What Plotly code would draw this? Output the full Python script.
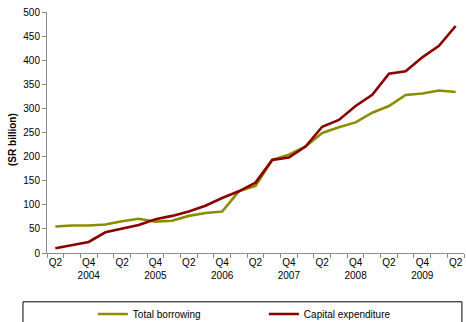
import plotly.graph_objects as go

# Quarterly periods, Q2 2004 .. Q2 2010
quarters = [
    "Q2 2004", "Q3 2004", "Q4 2004", "Q1 2005", "Q2 2005", "Q3 2005", "Q4 2005",
    "Q1 2006", "Q2 2006", "Q3 2006", "Q4 2006", "Q1 2007", "Q2 2007", "Q3 2007",
    "Q4 2007", "Q1 2008", "Q2 2008", "Q3 2008", "Q4 2008", "Q1 2009", "Q2 2009",
    "Q3 2009", "Q4 2009", "Q1 2010", "Q2 2010",
]

# SR billion
total_borrowing = [55, 57, 57, 59, 66, 71, 65, 67, 77, 83, 86, 128, 139, 193,
                   204, 221, 249, 261, 271, 291, 305, 328, 331, 337, 334]
capital_expenditure = [10, 17, 23, 43, 50, 58, 70, 77, 86, 98, 114, 128, 146, 193,
                       198, 221, 262, 276, 305, 328, 372, 377, 406, 430, 471]

# Axis labels: every second quarter, year under each Q4
tick_idx = list(range(0, len(quarters), 2))
tick_text = ["Q2", "Q4<br>2004", "Q2", "Q4<br>2005", "Q2", "Q4<br>2006", "Q2",
             "Q4<br>2007", "Q2", "Q4<br>2008", "Q2", "Q4<br>2009", "Q2"]

x = list(range(len(quarters)))
FONT = "Liberation Sans, Arial, sans-serif"
AXIS_GREY = "#8c8c8c"

fig = go.Figure()
fig.add_trace(go.Scatter(
    x=x, y=total_borrowing, mode="lines", name="Total borrowing",
    line=dict(color="#8c8c00", width=2.6), customdata=quarters,
    hovertemplate="%{customdata}: %{y}<extra>Total borrowing</extra>",
))
fig.add_trace(go.Scatter(
    x=x, y=capital_expenditure, mode="lines", name="Capital expenditure",
    line=dict(color="#8b0000", width=2.6), customdata=quarters,
    hovertemplate="%{customdata}: %{y}<extra>Capital expenditure</extra>",
))

fig.update_layout(
    width=466, height=322,
    margin=dict(l=47, r=2, t=12, b=69, autoexpand=False),
    paper_bgcolor="white", plot_bgcolor="white",
    font=dict(family=FONT, size=10, color="#000000"),
    showlegend=True,
    legend=dict(
        orientation="h", x=0.11, xanchor="left", y=-0.253, yanchor="middle",
        entrywidth=126, entrywidthmode="pixels", itemwidth=30,
        font=dict(family=FONT, size=10), bgcolor="rgba(0,0,0,0)", borderwidth=0,
    ),
    shapes=[dict(
        type="rect", xref="paper", yref="paper",
        x0=-0.0576, x1=0.995, y0=-0.34, y1=-0.2025,
        line=dict(color="#000000", width=1), fillcolor="rgba(0,0,0,0)",
    )],
    annotations=[dict(
        text="<b>(SR billion)</b>", textangle=-90, showarrow=False,
        xref="paper", yref="paper", x=-0.084, y=0.473,
        xanchor="center", yanchor="middle",
        font=dict(family=FONT, size=10, color="#000000"),
    )],
)

fig.update_xaxes(
    range=[-0.5, len(quarters) - 0.5],
    tickmode="array", tickvals=tick_idx, ticktext=tick_text,
    ticks="", showgrid=False, zeroline=False,
    showline=True, linecolor=AXIS_GREY, linewidth=1,
    tickfont=dict(family=FONT, size=10),
    minor=dict(tick0=-0.5, dtick=1, ticks="outside", ticklen=4,
               tickcolor=AXIS_GREY, showgrid=False),
)
fig.update_yaxes(
    range=[0, 500], tick0=0, dtick=50,
    ticks="outside", ticklen=4, tickcolor=AXIS_GREY,
    showgrid=False, zeroline=False,
    showline=True, linecolor=AXIS_GREY, linewidth=1,
    tickfont=dict(family=FONT, size=10),
)

fig.write_html("out.html")
